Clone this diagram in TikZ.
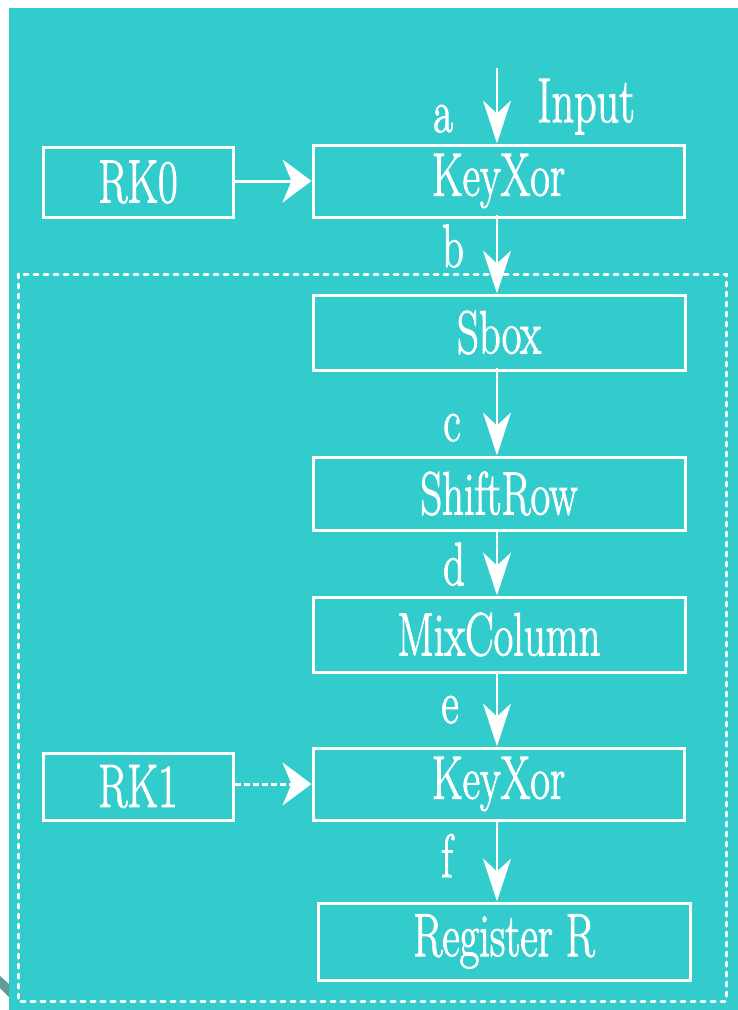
\documentclass[tikz,border=0pt]{standalone}
\usepackage{graphicx}
\usetikzlibrary{arrows.meta}
\definecolor{teal1}{HTML}{33CCCC}
\definecolor{shadowgray}{HTML}{669999}
\newcommand\cn[1]{\scalebox{0.70}[1]{\special{pdf:literal 2 Tr 1.2 w}#1\special{pdf:literal 0 Tr}}}
\tikzset{
  box/.style={draw=white, line width=3pt, text=white, inner sep=0pt,
    font=\fontsize{61}{70}\selectfont},
  lbl/.style={text=white, inner sep=0pt, anchor=base,
    font=\fontsize{61}{70}\selectfont},
  varrow/.style={draw=white, line width=2.5pt,
    -{Stealth[length=43pt,width=28pt,inset=13pt]}},
  harrow/.style={draw=white, line width=3pt,
    -{Stealth[length=29pt,width=43pt,inset=9pt]}},
  dashframe/.style={draw=white, line width=3pt, line cap=round,
    dash pattern=on 4pt off 6pt}
}
\begin{document}
\begin{tikzpicture}[x=1pt,y=-1pt]
\useasboundingbox (0,0) rectangle (738,1010);
\fill[white] (0,0) rectangle (738,1010);
\fill[teal1] (9,8) rectangle (738,1010);
\fill[shadowgray] (0,976) -- (9,984) -- (9,997) -- (0,988) -- cycle;
% dashed frame
\draw[dashframe] (18,274) rectangle (726,1001);
% boxes
\node[box, minimum width=190pt, minimum height=70pt] (rk0) at (138,182) {\cn{RK0}};
\node[box, minimum width=371pt, minimum height=72pt] (kx1) at (498.5,181) {\cn{KeyXor}};
\node[box, minimum width=372pt, minimum height=75pt] (sbox) at (499,332.5) {\cn{Sbox}};
\node[box, minimum width=372pt, minimum height=73pt] (shift) at (499,493.5) {\cn{ShiftRow}};
\node[box, minimum width=372pt, minimum height=75pt] (mix) at (499,634.5) {\cn{MixColumn}};
\node[box, minimum width=371pt, minimum height=72pt] (kx2) at (498.5,784) {\cn{KeyXor}};
\node[box, minimum width=190pt, minimum height=67pt] (rk1) at (138,786.5) {\cn{RK1}};
\node[box, minimum width=372pt, minimum height=77pt] (reg) at (504,941.5) {\cn{Register R}};
% labels
\node[lbl] (la) at (443,132) {\cn{a}};
\node[lbl, font=\fontsize{63}{72}\selectfont] (lin) at (586,122) {\cn{Input}};
\node[lbl] (lb) at (453,267) {\cn{b}};
\node[lbl] (lc) at (452,441) {\cn{c}};
\node[lbl] (ld) at (454,585) {\cn{d}};
\node[lbl] (le) at (450,723) {\cn{e}};
\node[lbl] (lf) at (447,877) {\cn{f}};
% arrows
\coordinate (in) at (497,68);
\draw[varrow] (in) -- (in |- kx1.north);
\draw[varrow] ([yshift=4pt]kx1.south -| in) -- (in |- sbox.north);
\draw[varrow] ([yshift=4pt]sbox.south -| in) -- (in |- shift.north);
\draw[varrow] ([yshift=2pt]shift.south -| in) -- (in |- mix.north);
\draw[varrow] ([yshift=2pt]mix.south -| in) -- (in |- kx2.north);
\draw[varrow] ([yshift=2pt]kx2.south -| in) -- (in |- reg.north);
\draw[harrow] (rk0.east |- kx1.west) -- (kx1.west);
\draw[harrow, dash pattern=on 6pt off 3pt] (rk1.east |- kx2.west) -- (kx2.west);
\end{tikzpicture}
\end{document}
